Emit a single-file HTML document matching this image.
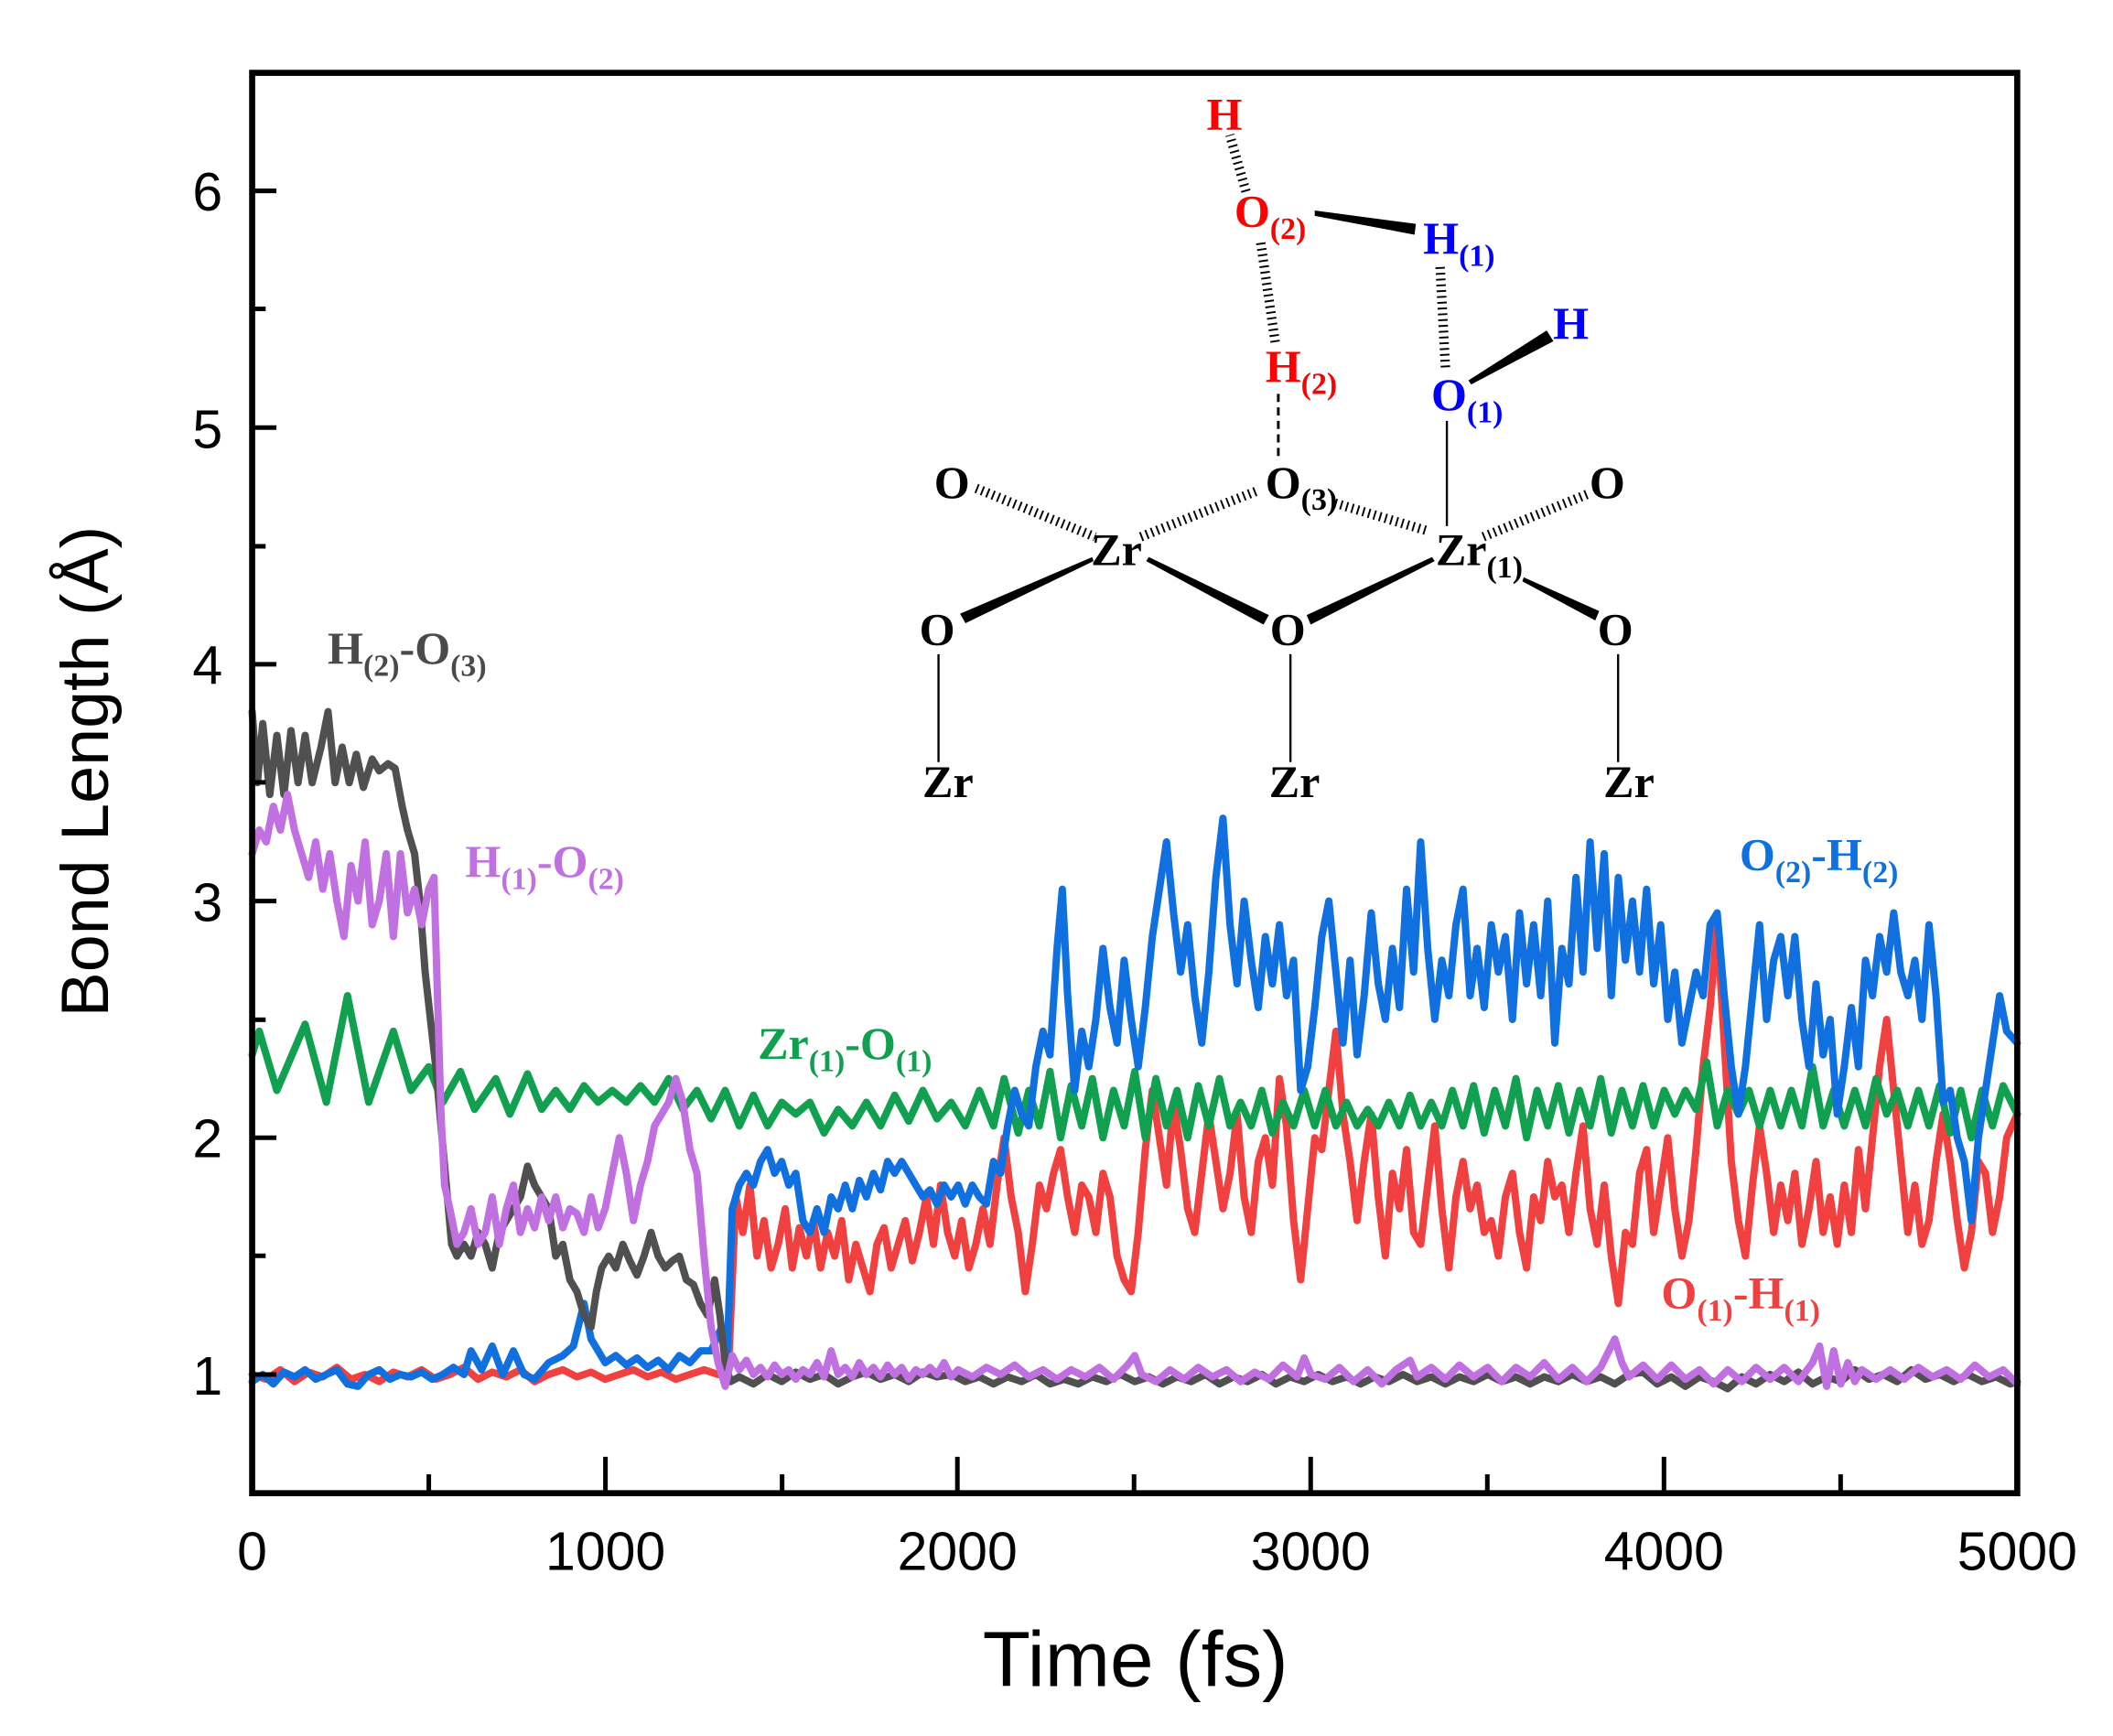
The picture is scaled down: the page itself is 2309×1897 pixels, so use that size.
<!DOCTYPE html>
<html><head><meta charset="utf-8"><style>
html,body{margin:0;padding:0;background:#fff}
svg{display:block}
.t{font-family:"Liberation Sans",sans-serif}
.s{font-family:"Liberation Serif",serif;font-weight:bold}
</style></head><body>
<svg width="2309" height="1897" viewBox="0 0 1567 1287" preserveAspectRatio="none" xmlns="http://www.w3.org/2000/svg">
<rect width="1567" height="1287" fill="#fff"/>
<g fill="none" stroke-width="8" stroke-linejoin="round" stroke-linecap="round" transform="matrix(0.2618 0 0 -175.5 187 1194.5)">
<path vector-effect="non-scaling-stroke" stroke="#f04040" d="M0,1.0 40,0.98 80,1.02 120,0.97 160,1.01 200,0.99 240,1.03 280,0.98 320,1.0 360,0.97 400,1.01 440,0.99 480,1.02 520,0.98 560,1.0 600,1.03 640,0.98 680,1.01 720,0.99 760,1.02 800,0.97 840,1.0 880,1.02 920,0.99 960,1.01 1000,0.98 1040,1.0 1080,1.02 1120,0.99 1160,1.01 1200,0.98 1240,1.0 1280,1.02 1320,1.0 1350,1.05 1370,1.75 1390,1.6 1410,1.8 1430,1.5 1450,1.65 1470,1.45 1490,1.55 1510,1.7 1530,1.45 1550,1.62 1570,1.5 1590,1.65 1610,1.45 1630,1.6 1650,1.5 1670,1.65 1690,1.4 1710,1.55 1730,1.45 1750,1.35 1770,1.55 1790,1.62 1810,1.45 1830,1.55 1850,1.65 1870,1.48 1890,1.6 1910,1.75 1930,1.55 1950,1.8 1970,1.6 1990,1.5 2010,1.65 2030,1.45 2050,1.55 2070,1.7 2090,1.55 2110,1.8 2130,2.0 2150,1.75 2170,1.6 2190,1.35 2210,1.55 2230,1.8 2250,1.7 2270,1.85 2290,1.95 2310,1.75 2330,1.6 2350,1.8 2370,1.75 2390,1.6 2410,1.85 2430,1.75 2450,1.5 2470,1.4 2490,1.35 2510,1.6 2530,1.95 2550,2.2 2570,2.0 2590,1.8 2610,2.15 2630,1.95 2650,1.7 2670,1.6 2690,1.85 2710,2.1 2730,1.9 2750,1.7 2770,1.85 2790,2.1 2810,1.75 2830,1.6 2850,1.9 2870,2.0 2890,1.8 2910,2.25 2930,2.05 2950,1.65 2970,1.4 2990,1.7 3010,2.0 3030,1.95 3050,2.2 3070,2.45 3090,2.1 3110,1.9 3130,1.65 3150,1.9 3170,2.1 3190,1.75 3210,1.5 3230,1.85 3250,1.7 3270,1.95 3290,1.6 3310,1.55 3330,1.8 3350,2.05 3370,1.7 3390,1.45 3410,1.75 3430,1.9 3450,1.7 3470,1.8 3490,1.6 3510,1.65 3530,1.5 3550,1.75 3570,1.85 3590,1.6 3610,1.45 3630,1.75 3650,1.65 3670,1.9 3690,1.75 3710,1.8 3730,1.6 3750,1.85 3770,2.05 3790,1.7 3810,1.55 3830,1.8 3850,1.5 3870,1.3 3890,1.6 3910,1.55 3930,1.85 3950,1.95 3970,1.6 3990,1.8 4010,2.0 4030,1.7 4050,1.5 4070,1.65 4090,1.95 4110,2.3 4130,2.55 4150,2.9 4170,2.4 4190,1.9 4210,1.65 4230,1.5 4250,1.8 4270,2.05 4290,1.85 4310,1.6 4330,1.8 4350,1.65 4370,1.85 4390,1.55 4410,1.7 4430,1.9 4450,1.6 4470,1.75 4490,1.55 4510,1.8 4530,1.6 4550,1.95 4570,1.7 4590,2.0 4610,2.3 4630,2.5 4650,2.2 4670,1.9 4690,1.6 4710,1.8 4730,1.55 4750,1.65 4770,1.9 4790,2.1 4810,1.9 4830,1.65 4850,1.45 4870,1.6 4890,1.9 4910,1.85 4930,1.6 4950,1.75 4970,2.0 5000,2.1"/>
<path vector-effect="non-scaling-stroke" stroke="#10a050" d="M0,2.35 20,2.45 70,2.2 150,2.48 210,2.15 270,2.6 330,2.15 400,2.45 450,2.2 500,2.3 540,2.15 590,2.28 630,2.12 690,2.25 730,2.1 780,2.27 820,2.12 860,2.2 900,2.12 940,2.22 980,2.15 1020,2.2 1060,2.15 1100,2.22 1140,2.15 1180,2.25 1220,2.12 1260,2.2 1300,2.08 1340,2.2 1380,2.05 1420,2.18 1460,2.05 1500,2.15 1540,2.1 1580,2.15 1620,2.02 1660,2.12 1700,2.05 1740,2.15 1780,2.05 1820,2.18 1860,2.07 1900,2.2 1940,2.08 1980,2.15 2020,2.05 2060,2.2 2100,2.05 2130,2.25 2170,2.02 2200,2.2 2230,2.05 2260,2.28 2290,2.0 2320,2.22 2350,2.05 2380,2.25 2410,2.0 2440,2.2 2470,2.05 2500,2.28 2530,2.0 2560,2.25 2590,2.05 2620,2.2 2650,2.0 2680,2.22 2710,2.05 2740,2.25 2770,2.05 2800,2.15 2830,2.05 2860,2.2 2890,2.02 2920,2.15 2950,2.05 2980,2.2 3010,2.05 3040,2.2 3070,2.05 3100,2.15 3130,2.05 3160,2.12 3190,2.05 3220,2.15 3250,2.05 3280,2.18 3310,2.05 3340,2.15 3370,2.05 3400,2.2 3430,2.05 3460,2.22 3490,2.02 3520,2.2 3550,2.05 3580,2.25 3610,2.0 3640,2.2 3670,2.05 3700,2.22 3730,2.02 3760,2.2 3790,2.05 3820,2.25 3850,2.02 3880,2.2 3910,2.05 3940,2.22 3970,2.05 4000,2.2 4030,2.1 4060,2.2 4090,2.12 4120,2.32 4150,2.05 4180,2.2 4210,2.1 4240,2.2 4270,2.05 4300,2.2 4330,2.05 4360,2.2 4390,2.05 4420,2.3 4450,2.05 4480,2.2 4510,2.05 4540,2.2 4570,2.05 4600,2.25 4630,2.1 4660,2.2 4690,2.05 4720,2.2 4750,2.05 4780,2.22 4810,2.02 4840,2.2 4870,2.0 4900,2.2 4930,2.05 4960,2.22 5000,2.1"/>
<path vector-effect="non-scaling-stroke" stroke="#1070e0" d="M0,0.97 30,1.0 60,0.96 90,1.01 120,0.99 150,1.02 180,0.98 210,1.0 240,1.02 270,0.96 300,0.95 330,1.0 360,1.02 390,0.98 420,1.0 450,0.99 480,1.01 510,0.98 540,1.0 570,1.03 600,1.0 620,1.1 650,1.02 680,1.12 710,1.0 740,1.1 770,1.0 800,0.98 840,1.05 880,1.08 910,1.12 940,1.3 960,1.15 980,1.1 1000,1.05 1030,1.08 1060,1.04 1090,1.07 1120,1.03 1150,1.06 1180,1.02 1210,1.08 1240,1.05 1270,1.1 1300,1.1 1330,1.2 1345,1.05 1360,1.7 1380,1.8 1400,1.85 1420,1.8 1440,1.9 1460,1.95 1480,1.85 1500,1.9 1520,1.8 1540,1.85 1560,1.65 1580,1.6 1600,1.7 1620,1.6 1640,1.75 1660,1.7 1680,1.8 1700,1.7 1720,1.82 1740,1.75 1760,1.85 1780,1.78 1800,1.9 1820,1.85 1840,1.9 1860,1.85 1880,1.8 1900,1.75 1920,1.78 1940,1.72 1960,1.8 1980,1.75 2000,1.8 2020,1.72 2040,1.8 2060,1.75 2080,1.72 2100,1.9 2120,1.85 2140,2.05 2160,2.2 2180,2.1 2200,2.05 2220,2.3 2240,2.45 2260,2.35 2280,2.8 2295,3.05 2310,2.6 2330,2.2 2350,2.45 2370,2.3 2390,2.5 2410,2.8 2430,2.55 2450,2.4 2470,2.75 2490,2.5 2510,2.3 2530,2.55 2550,2.85 2570,3.05 2590,3.25 2610,2.95 2630,2.7 2650,2.9 2670,2.6 2690,2.4 2710,2.7 2730,3.1 2750,3.35 2770,2.9 2790,2.65 2810,3.0 2830,2.75 2850,2.55 2870,2.85 2890,2.65 2910,2.9 2930,2.6 2950,2.75 2970,2.2 2990,2.3 3010,2.55 3030,2.85 3050,3.0 3070,2.7 3090,2.4 3110,2.75 3130,2.35 3150,2.6 3170,2.95 3190,2.65 3210,2.5 3230,2.8 3250,2.55 3270,3.05 3290,2.7 3310,3.25 3330,2.8 3350,2.5 3370,2.75 3390,2.6 3410,2.9 3430,3.05 3450,2.6 3470,2.8 3490,2.55 3510,2.9 3530,2.7 3550,2.85 3570,2.5 3590,2.95 3610,2.65 3630,2.9 3650,2.6 3670,3.0 3690,2.4 3710,2.8 3730,2.65 3750,3.1 3770,2.7 3790,3.25 3810,2.8 3830,3.2 3850,2.6 3870,3.1 3890,2.75 3910,3.0 3930,2.7 3950,3.05 3970,2.65 3990,2.9 4010,2.5 4030,2.7 4050,2.4 4070,2.55 4090,2.7 4110,2.6 4130,2.9 4150,2.95 4170,2.6 4190,2.3 4210,2.1 4230,2.3 4250,2.6 4270,2.9 4290,2.5 4310,2.75 4330,2.85 4350,2.6 4370,2.85 4390,2.5 4410,2.3 4430,2.65 4450,2.35 4470,2.5 4490,2.1 4510,2.3 4530,2.55 4550,2.3 4570,2.75 4590,2.6 4610,2.85 4630,2.7 4650,2.95 4670,2.7 4690,2.6 4710,2.75 4730,2.5 4750,2.9 4770,2.6 4790,2.15 4810,2.2 4830,2.0 4850,1.9 4870,1.65 4890,2.0 4910,2.2 4930,2.4 4950,2.6 4970,2.45 5000,2.4"/>
<path vector-effect="non-scaling-stroke" stroke="#505050" d="M0,3.8 15,3.5 30,3.75 50,3.45 70,3.7 90,3.45 110,3.72 130,3.5 150,3.7 170,3.5 195,3.65 215,3.8 235,3.5 255,3.65 275,3.5 295,3.62 315,3.48 340,3.6 360,3.55 385,3.58 405,3.56 425,3.4 440,3.3 460,3.2 475,3.0 490,2.7 505,2.5 520,2.3 535,2.05 550,1.8 565,1.55 580,1.5 600,1.55 620,1.5 640,1.6 660,1.55 680,1.45 700,1.6 720,1.65 740,1.7 760,1.75 780,1.88 800,1.8 820,1.75 840,1.7 860,1.5 880,1.55 900,1.4 920,1.35 940,1.25 960,1.2 975,1.35 990,1.45 1010,1.5 1030,1.45 1050,1.55 1070,1.48 1090,1.42 1110,1.5 1130,1.6 1150,1.5 1170,1.45 1190,1.48 1210,1.5 1230,1.4 1250,1.38 1270,1.3 1290,1.25 1310,1.4 1325,1.25 1340,1.05 1355,0.97 1380,0.99 1420,0.96 1460,1.0 1500,0.97 1540,1.01 1580,0.98 1620,1.0 1660,0.96 1700,0.99 1740,1.01 1780,0.98 1820,1.0 1860,0.97 1900,1.01 1940,0.99 1980,1.0 2020,0.97 2060,0.99 2100,0.96 2140,0.99 2180,0.97 2220,1.0 2260,0.96 2300,0.98 2340,0.96 2380,0.99 2420,0.97 2460,1.0 2500,0.97 2540,0.99 2580,0.96 2620,0.99 2660,0.97 2700,1.0 2740,0.96 2780,0.99 2820,0.97 2860,1.0 2900,0.96 2940,0.99 2980,0.97 3020,1.0 3060,0.97 3100,0.99 3140,0.96 3180,0.99 3220,0.97 3260,1.0 3300,0.97 3340,0.99 3380,0.96 3420,0.99 3460,0.97 3500,1.0 3540,0.97 3580,0.99 3620,0.96 3660,0.99 3700,0.97 3740,1.0 3780,0.97 3820,0.99 3860,0.96 3900,1.0 3940,1.01 3980,0.96 4020,0.99 4060,0.95 4100,0.99 4140,0.97 4180,0.94 4220,0.99 4260,0.96 4300,1.0 4340,0.97 4380,1.01 4420,0.96 4460,0.99 4500,0.97 4540,1.02 4580,0.98 4620,1.0 4660,0.97 4700,1.02 4740,0.98 4780,1.0 4820,0.97 4860,1.0 4900,0.97 4940,0.99 4980,0.96 5000,0.97"/>
<path vector-effect="non-scaling-stroke" stroke="#c070e0" d="M0,3.2 20,3.3 40,3.25 60,3.4 80,3.3 100,3.45 120,3.3 140,3.2 160,3.1 180,3.25 200,3.05 220,3.2 240,3.0 260,2.85 280,3.15 300,3.0 320,3.25 340,2.9 360,3.0 380,3.2 400,2.85 420,3.2 440,2.95 460,3.05 480,2.9 500,3.05 515,3.1 525,2.6 535,2.1 545,1.8 560,1.7 580,1.55 600,1.6 620,1.7 640,1.55 660,1.6 680,1.75 700,1.55 720,1.7 740,1.8 760,1.6 780,1.7 800,1.62 820,1.75 840,1.65 860,1.75 880,1.62 900,1.7 920,1.68 940,1.6 960,1.75 980,1.62 1000,1.7 1020,1.85 1040,2.0 1060,1.85 1080,1.65 1100,1.8 1120,1.9 1140,2.05 1160,2.1 1180,2.15 1200,2.25 1220,2.15 1240,1.95 1260,1.85 1280,1.5 1300,1.2 1320,1.05 1340,0.95 1360,1.08 1380,1.02 1400,1.06 1420,1.0 1440,1.03 1460,0.99 1480,1.04 1500,1.0 1520,1.02 1540,0.98 1560,1.02 1580,1.0 1600,1.05 1620,0.99 1640,1.1 1660,1.0 1680,1.03 1700,0.99 1720,1.05 1740,1.0 1760,1.03 1780,0.99 1800,1.04 1820,1.0 1840,1.03 1860,0.98 1880,1.02 1900,1.0 1920,1.03 1940,1.0 1960,1.05 1980,0.99 2000,1.02 2040,0.99 2080,1.03 2120,1.0 2160,1.04 2200,0.99 2240,1.02 2280,0.98 2320,1.02 2360,0.99 2400,1.03 2440,0.98 2480,1.04 2500,1.08 2520,1.0 2560,0.97 2600,1.02 2640,0.98 2680,1.03 2720,0.99 2760,1.02 2800,0.97 2840,1.01 2880,0.98 2920,1.04 2960,0.99 2980,1.07 3000,1.0 3040,0.98 3080,1.03 3120,0.97 3160,1.02 3200,0.96 3240,1.02 3280,1.06 3300,0.99 3340,1.03 3380,0.98 3420,1.04 3460,0.99 3500,1.03 3540,0.97 3580,1.03 3620,0.99 3660,1.05 3700,0.98 3740,1.03 3780,0.97 3820,1.03 3860,1.15 3880,1.05 3900,0.99 3940,1.04 3980,0.98 4020,1.04 4060,0.98 4100,1.02 4140,0.96 4180,1.02 4220,0.97 4260,1.03 4300,0.98 4340,1.03 4380,0.97 4420,1.05 4440,1.12 4460,0.95 4480,1.1 4500,0.96 4520,1.05 4540,0.97 4560,1.02 4600,0.98 4640,1.02 4680,0.98 4720,1.03 4760,0.99 4800,1.02 4840,0.98 4880,1.04 4920,0.99 4960,1.02 5000,0.96"/>
</g>
<rect x="187" y="54" width="1309" height="1053" fill="none" stroke="#000" stroke-width="4.5"/>
<g stroke="#000" stroke-width="3.4">
<line x1="187" x2="205" y1="1019" y2="1019"/><line x1="187" x2="205" y1="843.5" y2="843.5"/><line x1="187" x2="205" y1="668" y2="668"/><line x1="187" x2="205" y1="492.5" y2="492.5"/><line x1="187" x2="205" y1="317" y2="317"/><line x1="187" x2="205" y1="141.5" y2="141.5"/>
<line x1="187" x2="197" y1="931" y2="931"/><line x1="187" x2="197" y1="756" y2="756"/><line x1="187" x2="197" y1="580" y2="580"/><line x1="187" x2="197" y1="405" y2="405"/><line x1="187" x2="197" y1="229" y2="229"/>
<line y1="1107" y2="1080" x1="449" x2="449"/><line y1="1107" y2="1080" x1="710" x2="710"/><line y1="1107" y2="1080" x1="972" x2="972"/><line y1="1107" y2="1080" x1="1234" x2="1234"/>
<line y1="1107" y2="1093" x1="318" x2="318"/><line y1="1107" y2="1093" x1="580" x2="580"/><line y1="1107" y2="1093" x1="841" x2="841"/><line y1="1107" y2="1093" x1="1103" x2="1103"/><line y1="1107" y2="1093" x1="1365" x2="1365"/>
</g>
<g class="t" font-size="40" text-anchor="middle" fill="#000">
<text x="187" y="1164">0</text><text x="449" y="1164">1000</text><text x="710" y="1164">2000</text>
<text x="972" y="1164">3000</text><text x="1234" y="1164">4000</text><text x="1496" y="1164">5000</text>
<g text-anchor="end"><text x="165" y="1034">1</text><text x="165" y="858">2</text><text x="165" y="683">3</text>
<text x="165" y="507">4</text><text x="165" y="332">5</text><text x="165" y="156">6</text></g>
<text x="842" y="1250" font-size="58">Time (fs)</text>
<text transform="translate(80,572) rotate(-90)" font-size="50">Bond Length (Å)</text>
</g>
<g class="s" font-size="34">
<text x="243" y="492" fill="#4a4a4a">H<tspan font-size="23" dy="9">(2)</tspan><tspan dy="-9">-O</tspan><tspan font-size="23" dy="9">(3)</tspan></text>
<text x="345" y="650" fill="#c070e0">H<tspan font-size="23" dy="9">(1)</tspan><tspan dy="-9">-O</tspan><tspan font-size="23" dy="9">(2)</tspan></text>
<text x="562" y="785" fill="#10a050">Zr<tspan font-size="23" dy="9">(1)</tspan><tspan dy="-9">-O</tspan><tspan font-size="23" dy="9">(1)</tspan></text>
<text x="1290" y="645" fill="#1070e0">O<tspan font-size="23" dy="9">(2)</tspan><tspan dy="-9">-H</tspan><tspan font-size="23" dy="9">(2)</tspan></text>
<text x="1232" y="970" fill="#f04040">O<tspan font-size="23" dy="9">(1)</tspan><tspan dy="-9">-H</tspan><tspan font-size="23" dy="9">(1)</tspan></text>
</g>
<g stroke="#000" fill="none">
<g stroke-width="7" stroke-dasharray="1.3,3">
<line x1="924" y1="142" x2="912" y2="100"/>
<line x1="935" y1="180" x2="946" y2="256"/>
<line x1="1068" y1="198" x2="1072" y2="274"/>
<line x1="724" y1="362" x2="812" y2="398"/>
<line x1="846" y1="398" x2="932" y2="364"/>
<line x1="990" y1="373" x2="1060" y2="394"/>
<line x1="1100" y1="398" x2="1178" y2="366"/>
</g>
<line x1="948" y1="292" x2="948" y2="340" stroke-width="2" stroke-dasharray="6,4"/>
<line x1="1073" y1="312" x2="1073" y2="390" stroke-width="1.6"/>
<line x1="696" y1="485" x2="696" y2="565" stroke-width="1.6"/>
<line x1="957" y1="485" x2="957" y2="565" stroke-width="1.6"/>
<line x1="1200" y1="485" x2="1200" y2="565" stroke-width="1.6"/>
</g>
<g fill="#000">
<polygon points="975,156 975,160 1049,174 1050,166"/>
<polygon points="1089,282 1091,285 1152,253 1147,245"/>
<polygon points="810,413 811,416 716,462 712,455"/>
<polygon points="852,413 850,416 937,463 941,456"/>
<polygon points="1062,413 1064,416 972,463 969,456"/>
<polygon points="1130,428 1129,431 1183,460 1186,453"/>
</g>
<g class="s" font-size="34" text-anchor="middle">
<text x="908" y="96" fill="#f00">H</text>
<text x="942" y="168" fill="#f00">O<tspan font-size="23" dy="9">(2)</tspan></text>
<text x="1082" y="188" fill="#00f">H<tspan font-size="23" dy="9">(1)</tspan></text>
<text x="1165" y="251" fill="#00f">H</text>
<text x="965" y="283" fill="#f00">H<tspan font-size="23" dy="9">(2)</tspan></text>
<text x="1088" y="304" fill="#00f">O<tspan font-size="23" dy="9">(1)</tspan></text>
<g fill="#000">
<text x="706" y="369">O</text>
<text x="965" y="369">O<tspan font-size="23" dy="9">(3)</tspan></text>
<text x="1192" y="369">O</text>
<text x="828" y="419">Zr</text>
<text x="1097" y="419">Zr<tspan font-size="23" dy="9">(1)</tspan></text>
<text x="695" y="478">O</text><text x="955" y="478">O</text><text x="1198" y="478">O</text>
<text x="703" y="591">Zr</text><text x="960" y="591">Zr</text><text x="1208" y="591">Zr</text>
</g></g>
</svg>
</body></html>
